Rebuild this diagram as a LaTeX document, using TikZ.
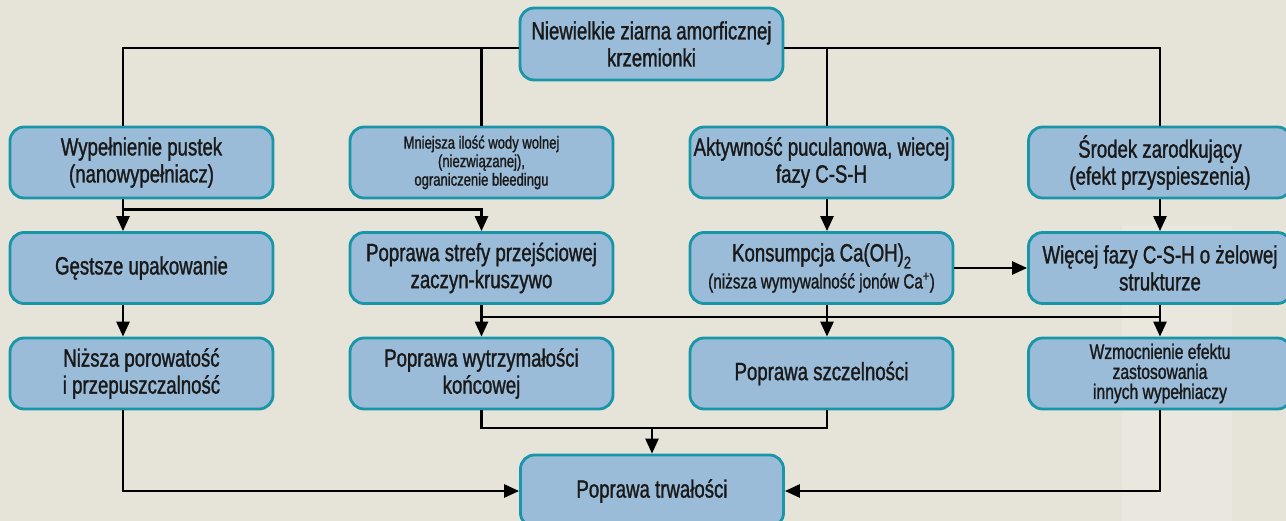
\documentclass[tikz,border=0pt]{standalone}
\usepackage{fontspec}
\setmainfont[FakeStretch=0.745, FakeBold=1.2]{Liberation Sans}
\usetikzlibrary{arrows.meta}
\definecolor{tlo}{RGB}{230, 228, 216}
\definecolor{tlojasne}{RGB}{234, 232, 222}
\definecolor{ramka}{RGB}{25, 149, 168}
\definecolor{wypelnienie}{RGB}{155, 188, 216}
\newcommand{\txtduzy}{\fontsize{25}{27}\selectfont}
\newcommand{\txtsredni}{\fontsize{21}{20}\selectfont}
\newcommand{\txtmaly}{\fontsize{17.5}{18.5}\selectfont}
\newcommand{\indeksdwa}{\raisebox{-7pt}{\fontsize{17}{17}\selectfont 2}}

\begin{document}
\begin{tikzpicture}[x=1pt, y=-1pt,
    blok/.style={draw=ramka, line width=2.8pt, fill=wypelnienie, rounded corners=14pt,
                 minimum width=263pt, minimum height=71pt, inner sep=0pt, align=center,
                 text=black!90, font=\txtduzy},
    linia/.style={line width=2.6pt, black},
    strz/.style={linia, -{Triangle[length=15pt, width=13pt]}}]
    \useasboundingbox (0,0) rectangle (1286,521);
    \clip (0,0) rectangle (1286,521);
    \fill[tlo] (0,0) rectangle (1286,521);
    \fill[tlojasne] (1122,225) rectangle (1232,521);

    % gora
    \node[blok, minimum height=72pt] (nz) at (651.5,44) {Niewielkie ziarna amorficznej\\krzemionki};

    % pierwszy rzad
    \node[blok] (wyp) at (141.5,162.5) {Wypełnienie pustek\\(nanowypełniacz)};
    \node[blok, font=\txtmaly] (woda) at (481.5,162.5) {Mniejsza ilość wody wolnej\\(niezwiązanej),\\ograniczenie bleedingu};
    \node[blok] (akt) at (821.5,162.5) {Aktywność puculanowa, wiecej\\fazy C-S-H};
    \node[blok] (srodek) at (1160,162.5) {Środek zarodkujący\\(efekt przyspieszenia)};

    % drugi rzad
    \node[blok] (gest) at (141.5,268) {Gęstsze upakowanie};
    \node[blok] (strefa) at (481.5,268) {Poprawa strefy przejściowej\\zaczyn-kruszywo};
    \node[blok] (kons) at (821.5,268) {Konsumpcja Ca(OH)\indeksdwa\\{\fontsize{20.5}{20}\selectfont (niższa wymywalność jonów Ca\textsuperscript{+})}};
    \node[blok] (wiecej) at (1160,268) {Więcej fazy C-S-H o żelowej\\strukturze};

    % trzeci rzad
    \node[blok] (por) at (141.5,373.5) {Niższa porowatość\\i przepuszczalność};
    \node[blok] (wytrz) at (481.5,373.5) {Poprawa wytrzymałości\\końcowej};
    \node[blok] (szczel) at (821.5,373.5) {Poprawa szczelności};
    \node[blok, font=\txtsredni] (wzm) at (1160,373.5) {Wzmocnienie efektu\\zastosowania\\innych wypełniaczy};

    % dol
    \node[blok, minimum height=72pt] (trw) at (652,491) {Poprawa trwałości};

    \coordinate (szyna1) at (0,317);
    \coordinate (szyna2) at (0,428);

    % od gory do pierwszego rzedu
    \draw[linia] ([yshift=-4pt]nz.west) -| ([xshift=-18.5pt]wyp.north);
    \draw[linia] ([yshift=-4pt]nz.west -| woda.north) -- (woda.north);
    \draw[linia] ([yshift=-4pt]nz.east) -| (srodek.north);
    \draw[linia] ([yshift=-4pt, xshift=5.5pt]nz.east -| akt.north) -- ([xshift=5.5pt]akt.north);

    % pierwszy -> drugi rzad
    \draw[strz] ([xshift=-18.5pt]wyp.south) -- ([xshift=-18.5pt]gest.north);
    \draw[strz] ([xshift=-18.5pt, yshift=-10pt]wyp.south) -| (strefa.north);
    \draw[strz] ([xshift=5.5pt]akt.south) -- ([xshift=5.5pt]kons.north);
    \draw[strz] (srodek.south) -- (wiecej.north);
    \draw[strz] (kons.east) -- (wiecej.west);

    % drugi -> trzeci rzad
    \draw[strz] ([xshift=-18.5pt]gest.south) -- ([xshift=-18.5pt]por.north);
    \draw[linia] (strefa.south) -- (strefa.south |- szyna1) -- (wiecej.south |- szyna1) -- (wiecej.south);
    \draw[linia] ([xshift=5.5pt]kons.south) -- ([xshift=5.5pt]kons.south |- szyna1);
    \draw[strz] (strefa.south |- szyna1) -- (wytrz.north);
    \draw[strz] ([xshift=5.5pt]kons.south |- szyna1) -- ([xshift=5.5pt]szczel.north);
    \draw[strz] (wiecej.south |- szyna1) -- (wzm.north);

    % trzeci rzad -> trwalosc
    \draw[linia] (wytrz.south) |- ([xshift=5.5pt]szczel.south |- szyna2) -- ([xshift=5.5pt]szczel.south);
    \draw[strz] (trw.north |- szyna2) -- (trw.north);
    \draw[strz] ([xshift=-18.5pt]por.south) |- (trw.west);
    \draw[strz] (wzm.south) |- (trw.east);
\end{tikzpicture}
\end{document}
